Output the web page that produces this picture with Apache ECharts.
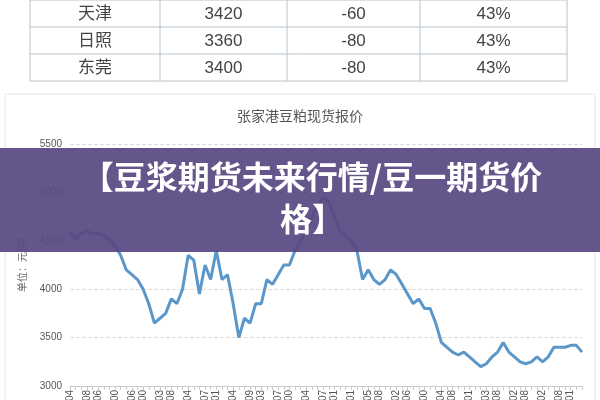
<!DOCTYPE html>
<html><head><meta charset="utf-8">
<script src="https://cdn.jsdelivr.net/npm/echarts@6/dist/echarts.min.js"></script>
<style>html,body{margin:0;padding:0;background:#fff}#c{width:600px;height:400px}</style>
</head><body><div id="c"></div>
<script>
const tableCities = ['天津','日照','东莞'];
const tablePrices = ['3420','3360','3400'];
const tableChanges = ['-60','-80','-80'];
const tableRatios = ['43%','43%','43%'];
const chartTitle = '张家港豆粕现货报价';
const bannerTitle = '【豆浆期货未来行情/豆一期货价\n格】';
const yTicks = [3000,3500,4000,4500,5000,5500];
const tickEnds = ['4','8','6','0','6','0','3','8','4','7','1','4','9','3','7','0','4','7','1','1','5','8','2','6','0','4','8','1','3','8','2','8','2','8','1'];
const prices = [4600,4520,4580,4600,4570,4580,4550,4520,4450,4350,4200,4150,4100,4000,3850,3650,3700,3750,3900,3850,4000,4350,4300,3950,4250,4100,4400,4100,4150,3850,3500,3700,3650,3850,3850,4100,4050,4150,4250,4250,4400,4500,4600,4750,4850,4950,4900,4750,4600,4550,4500,4400,4100,4200,4100,4050,4100,4200,4150,4050,3950,3850,3900,3800,3800,3650,3450,3400,3350,3320,3350,3300,3250,3200,3230,3300,3350,3450,3350,3300,3250,3230,3250,3300,3250,3300,3400,3400,3400,3420,3420,3350];

const N = prices.length;
const step = N / tickEnds.length;
const cats = prices.map((_, i) => 'd' + i);
const labelAt = {};
tickEnds.forEach((t, k) => { labelAt[Math.round(k * step)] = '01-0' + t; });

const chart = echarts.init(document.getElementById('c'));
const g = [];
const colX = [30,160,287,420,567], rowY = [0,27,54,81];
rowY.forEach(y => g.push({type:'line',shape:{x1:30,y1:y,x2:567,y2:y},style:{stroke:'#b8c2cc',lineWidth:1}}));
colX.forEach(x => g.push({type:'line',shape:{x1:x,y1:0,x2:x,y2:81},style:{stroke:'#b8c2cc',lineWidth:1}}));
const cols = [tableCities, tablePrices, tableChanges, tableRatios];
cols.forEach((col, ci) => col.forEach((t, ri) => g.push({type:'text',x:(colX[ci]+colX[ci+1])/2,y:rowY[ri]+14,
  style:{text:t,fill:'#444',font:'17px "Liberation Sans","Noto Sans CJK SC"',align:'center',verticalAlign:'middle'}})));
g.push({type:'rect',shape:{x:5,y:94,width:590,height:320},style:{fill:'none',stroke:'#e4e4e4',lineWidth:1},z:-1});
g.push({type:'text',x:300,y:116,style:{text:chartTitle,fill:'#555',font:'14px "Noto Sans CJK SC"',align:'center',verticalAlign:'middle'}});
g.push({type:'text',x:22,y:265,rotation:Math.PI/2,style:{text:'单位：元/吨',fill:'#666',font:'10px "Noto Sans CJK SC"',align:'center',verticalAlign:'middle'}});
g.push({type:'rect',shape:{x:0,y:148,width:600,height:104},style:{fill:'rgba(88,72,130,0.93)'},z:100});
g.push({type:'text',x:312,y:198,z:101,style:{text:bannerTitle,fill:'#fff',font:'bold 32px "Noto Sans CJK SC"',align:'center',verticalAlign:'middle',lineHeight:42}});

chart.setOption({
  animation:false,
  graphic:g,
  grid:{left:70,right:18,top:144,bottom:14,containLabel:false,outerBoundsMode:'none'},
  xAxis:{type:'category',data:cats,boundaryGap:false,
    axisLine:{lineStyle:{color:'#ccc'}},
    axisTick:{show:true,interval:0,length:4,lineStyle:{color:'#ccc'}},
    axisLabel:{interval:0,rotate:90,color:'#555',fontSize:10,margin:4,formatter:(v,i)=>labelAt[i]||''}},
  yAxis:{type:'value',min:3000,max:5500,interval:500,
    axisLabel:{color:'#555',fontSize:10,formatter:v=>yTicks.includes(v)?String(v):''},
    splitLine:{lineStyle:{color:'#ddd',type:'dashed'}},axisLine:{show:false},axisTick:{show:false}},
  series:[{type:'line',data:prices,symbol:'none',lineStyle:{color:'#5b97c9',width:3},z:2}]
});
</script></body></html>
